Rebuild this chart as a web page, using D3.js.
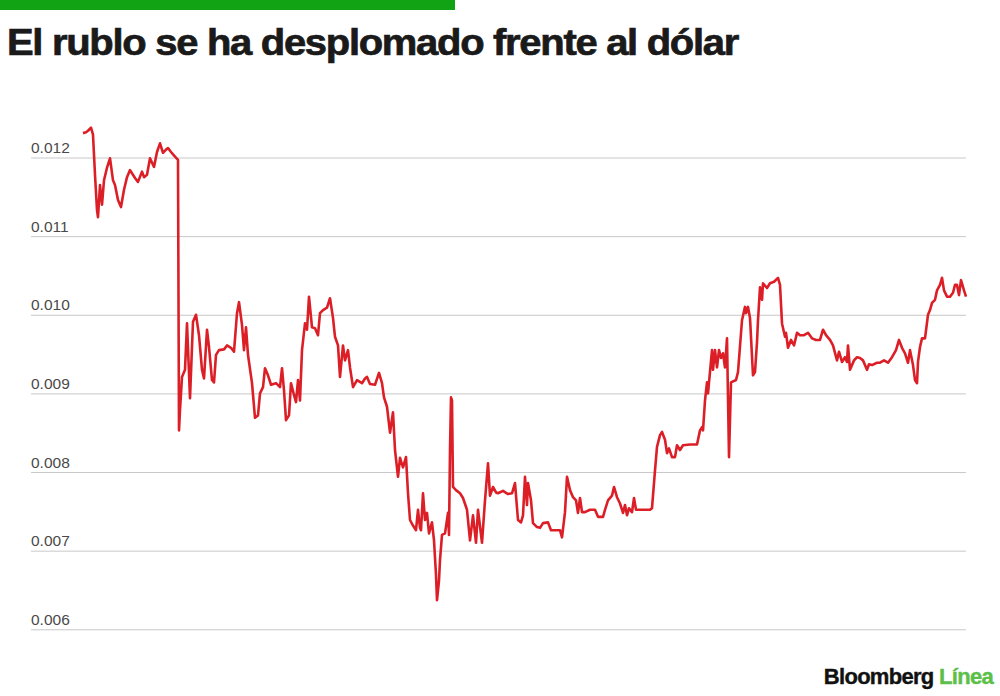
<!DOCTYPE html>
<html>
<head>
<meta charset="utf-8">
<script src="https://cdn.jsdelivr.net/npm/d3@7"></script>
<style>
  html, body { margin: 0; padding: 0; background: #fff; }
  svg { display: block; }
</style>
</head>
<body>
<div id="chart"></div>
<script>
// dias desde el inicio de la serie
const dias = [0,3,5,8,10,12,14,15,17,19,21,24,27,30,32,35,38,41,44,47,52,55,59,61,64,67,71,74,77,80,83,85,88,92,95,
  96,97,99,102,104,107,109,110,113,116,119,121,124,126,129,131,133,136,141,144,148,151,154,156,159,161,163,165,169,172,175,177,180,182,185,188,193,197,199,201,203,206,208,211,213,215,217,219,222,224,226,229,232,235,237,240,244,247,250,252,255,257,260,262,265,267,270,274,279,282,284,287,292,296,299,301,304,307,310,312,315,317,320,323,325,327,330,333,335,337,338,340,342,344,346,349,351,353,354,356,357,359,362,365,366,367,368,369,370,373,377,380,384,387,390,393,395,399,402,405,407,410,413,415,420,425,429,432,435,438,440,442,444,445,448,450,454,457,460,465,468,473,477,479,482,484,487,490,493,495,497,499,502,507,512,515,520,522,525,529,531,534,537,540,542,544,546,549,551,553,557,562,567,569,572,574,577,579,582,584,586,589,592,594,597,600,607,614,617,619,620,622,624,625,629,630,632,634,636,638,640,642,644,646,648,653,655,659,662,663,665,667,670,672,674,675,677,679,680,684,687,691,695,697,699,702,703,705,708,711,714,717,721,725,729,733,737,740,743,747,750,754,756,759,762,764,765,767,771,774,777,780,784,786,789,794,797,801,805,809,813,816,819,822,825,827,830,832,834,835,837,839,842,845,847,849,852,854,857,859,861,864,867,870,872,874,876,878,881,883];

// dolares por rublo
const valores = [0.01231,0.01232,0.01234,0.01238,0.01229,0.01178,0.01133,0.01124,0.01165,0.01140,0.01171,0.01187,0.01199,0.01171,0.01165,0.01146,0.01137,0.01159,0.01175,0.01184,0.01174,0.01169,0.01182,0.01175,0.01178,0.01199,0.01188,0.01207,0.01218,0.01206,0.01210,0.01212,0.01207,0.01201,0.01197,
  0.00853,0.00879,0.00921,0.00930,0.00989,0.00894,0.00959,0.00991,0.01000,0.00974,0.00930,0.00919,0.00981,0.00959,0.00917,0.00914,0.00949,0.00955,0.00956,0.00961,0.00958,0.00953,0.01002,0.01016,0.00987,0.00955,0.00984,0.00949,0.00913,0.00869,0.00872,0.00900,0.00908,0.00932,0.00923,0.00911,0.00913,0.00908,0.00932,0.00904,0.00866,0.00872,0.00913,0.00898,0.00889,0.00917,0.00891,0.00955,0.00989,0.00981,0.01023,0.00984,0.00983,0.00974,0.01002,0.01006,0.01009,0.01021,0.00996,0.00972,0.00961,0.00921,0.00961,0.00942,0.00955,0.00933,0.00908,0.00917,0.00913,0.00919,0.00921,0.00912,0.00911,0.00926,0.00913,0.00895,0.00883,0.00850,0.00876,0.00828,0.00794,0.00818,0.00806,0.00819,0.00773,0.00739,0.00732,0.00726,0.00752,0.00729,0.00726,0.00773,0.00739,0.00748,0.00722,0.00736,0.00713,0.00669,0.00637,0.00662,0.00688,0.00720,0.00722,0.00748,0.00720,0.00828,0.00895,0.00891,0.00781,0.00777,0.00773,0.00767,0.00752,0.00713,0.00745,0.00710,0.00752,0.00710,0.00764,0.00811,0.00770,0.00781,0.00774,0.00773,0.00776,0.00772,0.00773,0.00786,0.00739,0.00736,0.00745,0.00794,0.00758,0.00786,0.00764,0.00735,0.00730,0.00729,0.00735,0.00736,0.00726,0.00726,0.00726,0.00717,0.00749,0.00794,0.00777,0.00768,0.00764,0.00748,0.00767,0.00749,0.00749,0.00752,0.00752,0.00743,0.00743,0.00752,0.00764,0.00770,0.00781,0.00768,0.00760,0.00748,0.00758,0.00745,0.00754,0.00749,0.00767,0.00752,0.00752,0.00752,0.00752,0.00754,0.00802,0.00832,0.00847,0.00851,0.00841,0.00824,0.00830,0.00819,0.00819,0.00834,0.00828,0.00834,0.00835,0.00835,0.00853,0.00857,0.00853,0.00891,0.00914,0.00900,0.00955,0.00930,0.00955,0.00933,0.00955,0.00945,0.00951,0.00933,0.00970,0.00819,0.00914,0.00917,0.00927,0.00993,0.01010,0.01002,0.01010,0.00996,0.00923,0.00927,0.00965,0.00993,0.01035,0.01019,0.01040,0.01034,0.01040,0.01042,0.01047,0.01038,0.00989,0.00972,0.00977,0.00958,0.00968,0.00961,0.00977,0.00974,0.00974,0.00977,0.00970,0.00968,0.00968,0.00981,0.00974,0.00968,0.00961,0.00942,0.00953,0.00940,0.00946,0.00940,0.00961,0.00930,0.00942,0.00946,0.00945,0.00942,0.00930,0.00937,0.00936,0.00939,0.00939,0.00942,0.00939,0.00946,0.00955,0.00968,0.00958,0.00951,0.00939,0.00955,0.00936,0.00917,0.00913,0.00940,0.00959,0.00970,0.00970,0.01000,0.01006,0.01015,0.01019,0.01031,0.01038,0.01047,0.01031,0.01023,0.01023,0.01028,0.01038,0.01038,0.01025,0.01044,0.01031,0.01023];

const ticks = [0.006, 0.007, 0.008, 0.009, 0.010, 0.011, 0.012];
const titulo = "El rublo se ha desplomado frente al dólar";

const W = 1000, H = 696;
const margin = {top: 157, right: 34, bottom: 67, left: 83};

const svg = d3.select("#chart").append("svg")
    .attr("width", W).attr("height", H)
    .attr("viewBox", `0 0 ${W} ${H}`);

// barra verde superior
svg.append("rect")
    .attr("x", 0).attr("y", 0)
    .attr("width", 455).attr("height", 10)
    .attr("fill", "#12a315");

svg.append("text")
    .attr("x", 7).attr("y", 55)
    .attr("font-family", "'Liberation Sans', Arial, sans-serif")
    .attr("font-weight", "bold")
    .attr("font-size", 37)
    .attr("letter-spacing", -1.2)
    .attr("textLength", 731)
    .attr("lengthAdjust", "spacingAndGlyphs")
    .attr("fill", "#1a1a1a")
    .attr("stroke", "#1a1a1a")
    .attr("stroke-width", 0.7)
    .text(titulo);

let x = d3.scaleLinear()
    .domain(d3.extent(dias))
    .range([margin.left, W - margin.right]);

let y = d3.scaleLinear()
    .domain([0.006, 0.012])
    .range([629.3, 157.5]);

// rejilla y etiquetas
let yAxis = d3.axisLeft(y)
    .tickValues(ticks)
    .tickSize(-(966 - 31))
    .tickFormat(d3.format(".3f"))
    .tickPadding(0);

let gy = svg.append("g")
    .attr("transform", "translate(31,0)")
    .call(yAxis);

gy.select(".domain").remove();
gy.selectAll(".tick line")
    .attr("stroke", "#c8c8c8")
    .attr("stroke-width", 1);
gy.selectAll(".tick text")
    .attr("x", 0)
    .attr("dy", -5)
    .attr("text-anchor", "start")
    .attr("font-family", "'Liberation Sans', Arial, sans-serif")
    .attr("font-size", 15.5)
    .attr("fill", "#4a4a4a");

let line = d3.line()
    .x((d, i) => x(dias[i]))
    .y(d => y(d));

svg.append("path")
    .datum(valores)
    .attr("d", line)
    .attr("fill", "none")
    .attr("stroke", "#dc1f27")
    .attr("stroke-width", 2.6)
    .attr("stroke-linejoin", "round");

// logo
let logo = svg.append("text")
    .attr("x", 993).attr("y", 684)
    .attr("text-anchor", "end")
    .attr("font-family", "'Liberation Sans', Arial, sans-serif")
    .attr("font-weight", "bold")
    .attr("font-size", 22)
    .attr("letter-spacing", -0.7)
    .attr("stroke-width", 0.4);
logo.append("tspan").attr("fill", "#111").attr("stroke", "#111").text("Bloomberg ");
logo.append("tspan").attr("fill", "#5cbf4a").attr("stroke", "#5cbf4a").text("Línea");
</script>
</body>
</html>
